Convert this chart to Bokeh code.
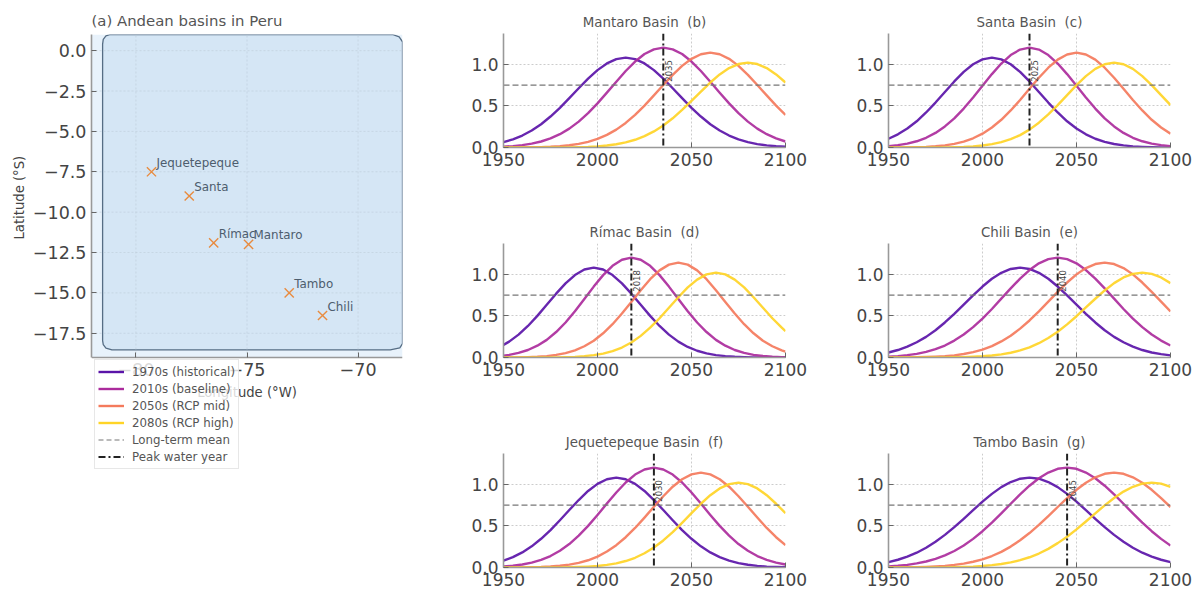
from bokeh.plotting import figure
from bokeh.layouts import row, column
from bokeh.models import Legend, LegendItem, FixedTicker, Range1d, Span, Title
from bokeh.core.properties import value
from bokeh.embed import file_html
from bokeh.resources import INLINE

FONT = "DejaVu Sans"

# ---- map panel -----
site_names = ["Jequetepeque", "Santa", "Rímac", "Mantaro", "Tambo", "Chili"]
site_lon = [-79.3, -77.6, -76.5, -74.93, -73.1, -71.6]
site_lat = [-7.5, -9.0, -11.9, -12.0, -15.0, -16.4]
map_lon_ticks = [-80, -75, -70]
map_lat_ticks = [0, -2.5, -5, -7.5, -10, -12.5, -15, -17.5]
map_lon_bounds = [-82, -68]
map_lat_bounds = [-19, 1]
# outline of the rounded Peru box
box_lon = [-81.5, -81.5, -81.47, -81.35, -81.15, -68.45, -68.15, -68.0, -68.0, -68.12, -68.55, -81.08, -81.35, -81.47, -81.5]
box_lat = [-17.96, 0.4, 0.7, 0.92, 1.0, 1.0, 0.85, 0.55, -18.14, -18.4, -18.53, -18.53, -18.42, -18.2, -17.96]
legend_gap = [float("nan"), float("nan")]

# ---- basin panels -----
years = list(range(1950, 2101, 5))
rimac_years = [1950] + list(range(1953, 2099, 5)) + [2100]
series_names = ["1970s (historical)", "2010s (baseline)", "2050s (RCP mid)", "2080s (RCP high)"]
series_colors = ["#5a14a8", "#ab2b9c", "#f47a5c", "#ffd426"]
basin_x_ticks = [1950, 2000, 2050, 2100]
basin_y_ticks = [0, 0.5, 1.0]
mean_level = 0.75

mantaro_1970 = [.065,.098,.144,.204,.280,.372,.477,.593,.712,.827,.930,1.010,1.062,1.08,1.062,1.010,.930,.827,.712,.593,.477,.372,.280,.204,.144,.098,.065,.041,.025,.015,.009]
mantaro_2010 = [.010,.017,.028,.046,.072,.109,.160,.227,.311,.413,.530,.659,.791,.919,1.033,1.123,1.18,1.2,1.18,1.123,1.033,.919,.791,.659,.530,.413,.311,.227,.160,.109,.072]
mantaro_2050 = [0,.001,.001,.003,.005,.009,.016,.027,.043,.068,.103,.152,.215,.295,.392,.504,.626,.751,.873,.981,1.066,1.121,1.14,1.121,1.066,.981,.873,.751,.626,.504,.392]
mantaro_2080 = [0,0,0,0,0,0,.001,.002,.005,.008,.014,.024,.039,.061,.093,.136,.193,.264,.351,.451,.560,.672,.781,.878,.954,1.003,1.02,1.003,.954,.878,.781]

santa_1970 = [.105,.158,.228,.315,.421,.540,.667,.794,.908,1.0,1.059,1.08,1.059,1.0,.908,.794,.667,.540,.421,.315,.228,.158,.105,.068,.042,.025,.014,.008,.004,.002,.001]
santa_2010 = [.016,.028,.047,.075,.117,.175,.253,.350,.468,.600,.742,.882,1.009,1.111,1.177,1.2,1.177,1.111,1.009,.882,.742,.600,.468,.350,.253,.175,.117,.075,.047,.028,.016]
santa_2050 = [0,.001,.002,.004,.008,.015,.026,.044,.071,.111,.166,.241,.333,.445,.570,.705,.838,.959,1.056,1.118,1.14,1.118,1.056,.959,.838,.705,.570,.445,.333,.241,.166]
santa_2080 = [0,0,0,0,0,.001,.002,.004,.007,.013,.024,.040,.064,.100,.149,.215,.298,.398,.510,.630,.750,.858,.945,1.001,1.02,1.001,.945,.858,.750,.630,.510]

rimac_1970 = [.151,.191,.275,.379,.500,.633,.767,.891,.991,1.057,1.08,1.057,.991,.891,.767,.633,.500,.379,.275,.191,.127,.081,.050,.029,.016,.009,.005,.002,.001,0,0,0]
rimac_2010 = [.023,.032,.055,.090,.142,.212,.306,.421,.556,.703,.852,.990,1.102,1.175,1.2,1.175,1.102,.990,.852,.703,.556,.421,.306,.212,.142,.090,.055,.032,.018,.010,.005,.004]
rimac_2050 = [.001,.001,.002,.005,.009,.017,.031,.053,.086,.135,.202,.291,.400,.528,.668,.809,.941,1.047,1.116,1.14,1.116,1.047,.941,.809,.668,.528,.400,.291,.202,.135,.086,.071]
rimac_2080 = [0,0,0,0,0,.001,.002,.004,.008,.016,.028,.047,.077,.120,.181,.260,.358,.472,.598,.724,.842,.936,.999,1.02,.999,.936,.842,.724,.598,.472,.358,.316]

chili_1970 = [.060,.090,.130,.183,.248,.328,.421,.525,.636,.747,.853,.946,1.018,1.064,1.08,1.064,1.018,.946,.853,.747,.636,.525,.421,.328,.248,.183,.130,.090,.060,.040,.025]
chili_2010 = [.010,.017,.028,.044,.067,.100,.144,.203,.276,.365,.468,.583,.707,.830,.948,1.051,1.132,1.182,1.2,1.182,1.132,1.051,.948,.830,.707,.583,.468,.365,.276,.203,.144]
chili_2050 = [0,.001,.002,.003,.006,.010,.016,.026,.042,.064,.095,.137,.193,.262,.347,.445,.554,.671,.789,.901,.999,1.075,1.123,1.14,1.123,1.075,.999,.901,.789,.671,.554]
chili_2080 = [0,0,0,0,0,.001,.002,.003,.005,.009,.015,.024,.037,.057,.085,.122,.172,.235,.310,.398,.496,.601,.706,.806,.894,.962,1.005,1.02,1.005,.962,.894]

jeque_1970 = [.083,.124,.181,.254,.345,.450,.568,.691,.811,.920,1.005,1.061,1.08,1.061,1.005,.920,.811,.691,.568,.450,.345,.254,.181,.124,.083,.053,.033,.019,.011,.006,.003]
jeque_2010 = [.012,.022,.036,.059,.092,.138,.202,.282,.383,.500,.631,.768,.901,1.022,1.117,1.178,1.2,1.178,1.117,1.022,.901,.768,.631,.500,.383,.282,.202,.138,.092,.059,.036]
jeque_2050 = [0,.001,.002,.004,.006,.012,.021,.034,.056,.087,.131,.192,.268,.364,.475,.600,.730,.856,.971,1.061,1.119,1.14,1.119,1.061,.971,.856,.730,.600,.475,.364,.268]
jeque_2080 = [0,0,0,0,0,.001,.002,.003,.006,.011,.018,.031,.050,.078,.117,.171,.240,.325,.425,.537,.653,.766,.869,.950,1.002,1.02,1.002,.950,.869,.766,.653]

tambo_1970 = [.065,.093,.131,.178,.238,.310,.392,.485,.585,.689,.791,.885,.966,1.027,1.067,1.08,1.067,1.027,.966,.885,.791,.689,.585,.485,.392,.310,.238,.178,.131,.093,.065]
tambo_2010 = [.013,.021,.032,.049,.072,.104,.145,.198,.264,.344,.436,.539,.650,.766,.878,.983,1.073,1.141,1.186,1.2,1.186,1.141,1.073,.983,.878,.766,.650,.539,.436,.344,.264]
tambo_2050 = [.001,.002,.003,.005,.008,.013,.020,.031,.047,.069,.098,.138,.188,.251,.327,.414,.512,.618,.727,.834,.934,1.019,1.084,1.126,1.14,1.126,1.084,1.019,.934,.834,.727]
tambo_2080 = [0,0,0,0,.001,.001,.002,.004,.007,.011,.018,.028,.042,.061,.088,.123,.168,.224,.293,.370,.458,.553,.651,.747,.835,.912,.970,1.008,1.02,1.008,.970]

basin_titles = ["Mantaro Basin \u00a0(b)", "Santa Basin \u00a0(c)", "Rímac Basin \u00a0(d)", "Chili Basin \u00a0(e)", "Jequetepeque Basin \u00a0(f)", "Tambo Basin \u00a0(g)"]
peak_years = [2035, 2025, 2018, 2040, 2030, 2045]
basin_years = [years, years, rimac_years, years, years, years]
basin_series = [
    [mantaro_1970, mantaro_2010, mantaro_2050, mantaro_2080],
    [santa_1970, santa_2010, santa_2050, santa_2080],
    [rimac_1970, rimac_2010, rimac_2050, rimac_2080],
    [chili_1970, chili_2010, chili_2050, chili_2080],
    [jeque_1970, jeque_2010, jeque_2050, jeque_2080],
    [tambo_1970, tambo_2010, tambo_2050, tambo_2080],
]


def style_axes(p, xticks, yticks, xfmt, yfmt, size):
    for ax, ticks, fmt in ((p.xaxis[0], xticks, xfmt), (p.yaxis[0], yticks, yfmt)):
        ax.ticker = FixedTicker(ticks=ticks)
        ax.major_label_overrides = {t: fmt(t) for t in ticks}
        ax.major_tick_in = 5
        ax.major_tick_out = 0
        ax.minor_tick_line_color = None
        ax.major_tick_line_color = "#666666"
        ax.axis_line_color = "#999999"
        ax.axis_line_width = 1.6
        ax.major_label_text_font = FONT
        ax.major_label_text_font_size = size
        ax.major_label_text_color = "#444444"
        ax.major_label_standoff = 5
    p.xaxis[0].major_label_orientation = "horizontal"


def num(v):
    s = f"{abs(v):.1f}"
    return ("\u2212" + s) if v < 0 else s


# ---- map figure: the frame runs on below the map so the legend can lie over the x axis ----
PX_PER_LAT = 323 / 20
FRAME_H = 455
m = figure(width=440, height=34 + FRAME_H + 40, output_backend="svg", toolbar_location=None,
           x_range=Range1d(*map_lon_bounds),
           y_range=Range1d(map_lat_bounds[1] - FRAME_H / PX_PER_LAT, map_lat_bounds[1]),
           min_border_left=91, min_border_right=38, min_border_top=34, min_border_bottom=40,
           outline_line_color=None, background_fill_color=None, border_fill_color=None)
m.title.text = "(a) Andean basins in Peru"
m.title.text_font = FONT
m.title.text_font_size = "14.9px"
m.title.text_font_style = "normal"
m.title.text_color = "#555555"
m.title.standoff = 9
style_axes(m, map_lon_ticks, map_lat_ticks, lambda v: f"\u2212{abs(v)}", num, "17.5px")
m.grid.visible = False
m.xaxis[0].fixed_location = map_lat_bounds[0]
m.yaxis[0].bounds = tuple(map_lat_bounds)
m.quad(left=[map_lon_bounds[0]], right=[map_lon_bounds[1]], bottom=[map_lat_bounds[0]], top=[map_lat_bounds[1]],
       fill_color="#e8f2fb", line_color=None)
m.patch(box_lon, box_lat, fill_color="#d5e6f5", line_color="#566d84", line_width=1.3)
m.segment(x0=map_lon_ticks, x1=map_lon_ticks, y0=[map_lat_bounds[0]] * 3, y1=[map_lat_bounds[1]] * 3,
          line_color="#bccbd9", line_alpha=0.6, line_dash="2 2")
m.segment(x0=[map_lon_bounds[0]] * 8, x1=[map_lon_bounds[1]] * 8, y0=map_lat_ticks, y1=map_lat_ticks,
          line_color="#bccbd9", line_alpha=0.6, line_dash="2 2")
m.scatter(site_lon, site_lat, marker="x", size=13, line_color="#e88b3f", line_width=1.4)
m.text(site_lon, site_lat, text=site_names, x_offset=5, y_offset=-9,
       text_font=value(FONT), text_font_size="11.9px", text_color="#4d5d6e", text_baseline="alphabetic")
m.xaxis.axis_label = "Longitude (°W)"
ax = m.xaxis[0]
ax.axis_label_text_font = FONT
ax.axis_label_text_font_style = "normal"
ax.axis_label_text_font_size = "13.2px"
ax.axis_label_text_color = "#444444"
ax.axis_label_standoff = 6
m.add_layout(Title(text="Latitude (°S)", align="left", offset=250, standoff=5, text_font=FONT,
                   text_font_size="13.2px", text_font_style="normal", text_color="#444444"), "left")

items = []
for name, col in zip(series_names, series_colors):
    r = m.line(legend_gap, legend_gap, line_color=col, line_width=2.4)
    items.append(LegendItem(label=name, renderers=[r]))
r = m.line(legend_gap, legend_gap, line_color="#777777", line_width=1.2, line_dash="5 3")
items.append(LegendItem(label="Long-term mean", renderers=[r]))
r = m.line(legend_gap, legend_gap, line_color="#222222", line_width=1.8, line_dash="7 3 2 3")
items.append(LegendItem(label="Peak water year", renderers=[r]))
leg = Legend(items=items, location=(3, 20), orientation="vertical",
             glyph_width=26, glyph_height=17, label_height=17, spacing=0, padding=3, margin=0,
             label_standoff=8, label_text_font=FONT, label_text_font_size="11.8px",
             label_text_color="#555555", background_fill_color="white", background_fill_alpha=0.8,
             border_line_color="#d0d0d0", border_line_width=1.5)
m.add_layout(leg, "center")


# ---- basin figures ------------------------------------------------------
def basin(i, col2, last):
    left = 50 if col2 else 63
    right = 28 if col2 else 53
    bottom = 42 if last else 63
    p = figure(width=left + 282 + right, height=33 + 114 + bottom,
               output_backend="svg", toolbar_location=None,
               x_range=Range1d(1950, 2100), y_range=Range1d(0, 1.37),
               min_border_left=left, min_border_right=right, min_border_top=33, min_border_bottom=bottom,
               outline_line_color=None, background_fill_color="white")
    p.title.text = basin_titles[i]
    p.title.align = "center"
    p.title.text_font = FONT
    p.title.text_font_size = "13.4px"
    p.title.text_font_style = "normal"
    p.title.text_color = "#555555"
    p.title.standoff = 8
    style_axes(p, basin_x_ticks, basin_y_ticks, str, num, "17px")
    p.grid.grid_line_color = "#cccccc"
    p.grid.grid_line_dash = "2 2"
    for ys, col in zip(basin_series[i], series_colors):
        p.line(basin_years[i], ys, line_color=col, line_width=2.4, line_alpha=0.92, line_join="round")
    p.line(basin_x_ticks[::3], [mean_level, mean_level], line_color="#777777", line_width=1.3, line_dash="6 3")
    p.add_layout(Span(location=peak_years[i], dimension="height", line_color="#222222",
                      line_width=2, line_dash="7 3 2 3"))
    p.text([peak_years[i]], [0.92], text=[str(peak_years[i])], angle=1.5708, x_offset=5,
           text_font=value(FONT), text_font_size="8.5px", text_color="#444444",
           text_align="center", text_baseline="middle")
    return p


grid = column(
    row(basin(0, False, False), basin(1, True, False), spacing=0),
    row(basin(2, False, False), basin(3, True, False), spacing=0),
    row(basin(4, False, True), basin(5, True, True), spacing=0),
    spacing=0)
page = row(m, grid, spacing=0)
open("out.html", "w").write(file_html(page, INLINE))
